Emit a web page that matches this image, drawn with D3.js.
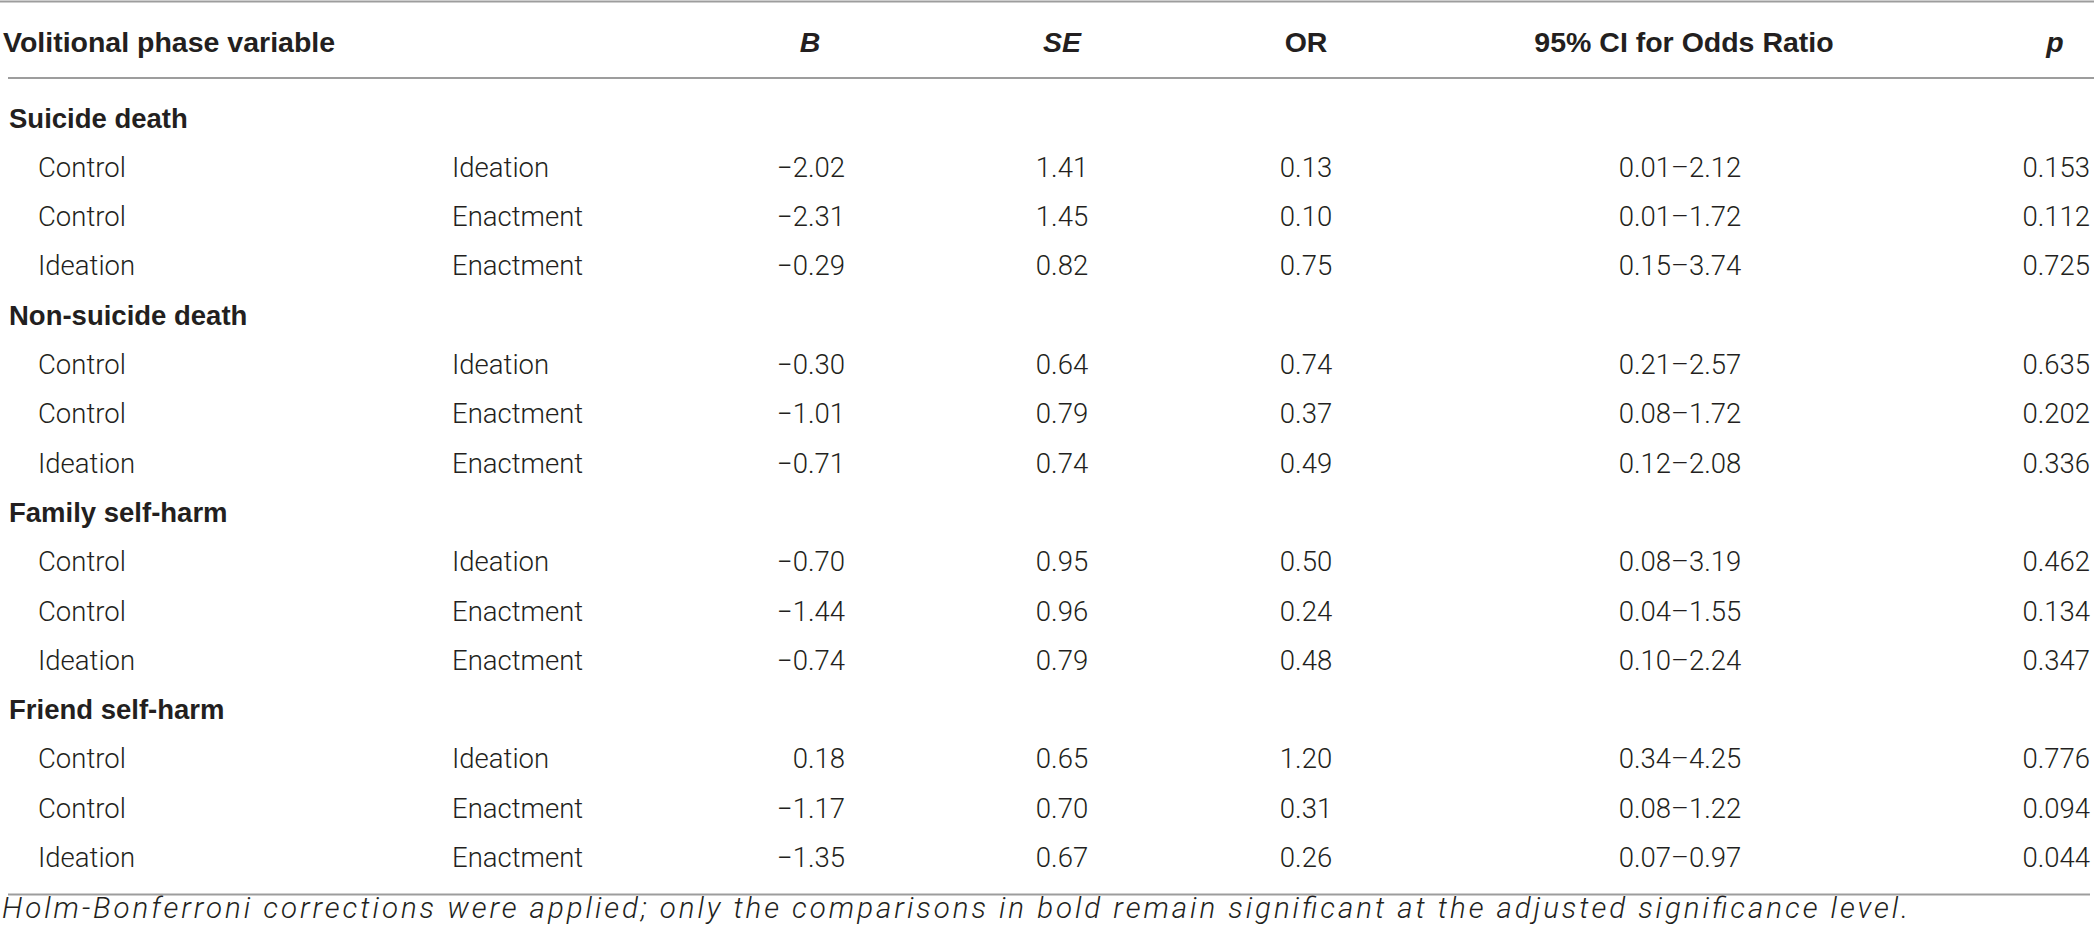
<!DOCTYPE html>
<html>
<head>
<meta charset="utf-8">
<script src="https://cdn.jsdelivr.net/npm/d3@7"></script>
<style>
  html, body { margin: 0; padding: 0; background: #fff; }
  svg { display: block; }
</style>
</head>
<body>
<svg id="chart" width="2094" height="940"></svg>
<script>
// ---------------- data ----------------
const headers = ["Volitional phase variable", "B", "SE", "OR", "95% CI for Odds Ratio", "p"];
const sections = ["Suicide death", "Non-suicide death", "Family self-harm", "Friend self-harm"];
const groupA = ["Control", "Control", "Ideation"];
const groupB = ["Ideation", "Enactment", "Enactment"];
const bValues  = [-2.02, -2.31, -0.29, -0.30, -1.01, -0.71, -0.70, -1.44, -0.74, 0.18, -1.17, -1.35];
const seValues = [1.41, 1.45, 0.82, 0.64, 0.79, 0.74, 0.95, 0.96, 0.79, 0.65, 0.70, 0.67];
const orValues = [0.13, 0.10, 0.75, 0.74, 0.37, 0.49, 0.50, 0.24, 0.48, 1.20, 0.31, 0.26];
const ciLow    = [0.01, 0.01, 0.15, 0.21, 0.08, 0.12, 0.08, 0.04, 0.10, 0.34, 0.08, 0.07];
const ciHigh   = [2.12, 1.72, 3.74, 2.57, 1.72, 2.08, 3.19, 1.55, 2.24, 4.25, 1.22, 0.97];
const pValues  = [0.153, 0.112, 0.725, 0.635, 0.202, 0.336, 0.462, 0.134, 0.347, 0.776, 0.094, 0.044];
const footnote = "Holm-Bonferroni corrections were applied; only the comparisons in bold remain significant at the adjusted significance level.";

// ---------------- build rows ----------------
const rows = [];
let k = 0;
sections.forEach(s => {
  rows.push({ type: "section", label: s });
  for (let j = 0; j < 3; j++) {
    rows.push({ type: "data", a: groupA[j], b: groupB[j], B: bValues[k], SE: seValues[k],
                OR: orValues[k], lo: ciLow[k], hi: ciHigh[k], p: pValues[k] });
    k++;
  }
});

const svg = d3.select("#chart");
const W = 2094;
const textColor = "#231f20";
const lineColor = "#9d9d9d";
const bodyFont = "Roboto, 'Liberation Sans', sans-serif";
const boldFont = "'Liberation Sans', Arial, sans-serif";

const y = d3.scalePoint().domain(d3.range(rows.length)).range([127.5, 867]);

// column anchors
const col = { sec: 9, a: 38, b: 452, B: 845, Bh: 810, SE: 1062, OR: 1306, CI: 1680, CIh: 1684, P: 2090, Ph: 2055 };

const f2 = d3.format(".2f");
const f3 = d3.format(".3f");

// rules
const rules = [
  { x1: 0, x2: W, y: 1.5 },
  { x1: 8, x2: 2094, y: 78 },
  { x1: 8, x2: 2090, y: 894.5 }
];
svg.selectAll("line.rule").data(rules).join("line")
  .attr("class", "rule")
  .attr("x1", d => d.x1).attr("x2", d => d.x2)
  .attr("y1", d => d.y).attr("y2", d => d.y)
  .attr("stroke", lineColor).attr("stroke-width", 2);

// header
const headY = 52;
const headSpec = [
  { t: headers[0], x: 3, anchor: "start", italic: false },
  { t: headers[1], x: col.Bh, anchor: "middle", italic: true },
  { t: headers[2], x: col.SE, anchor: "middle", italic: true },
  { t: headers[3], x: col.OR, anchor: "middle", italic: false },
  { t: headers[4], x: col.CIh, anchor: "middle", italic: false },
  { t: headers[5], x: col.Ph, anchor: "middle", italic: true }
];
svg.selectAll("text.head").data(headSpec).join("text")
  .attr("class", "head")
  .attr("x", d => d.x).attr("y", headY)
  .attr("text-anchor", d => d.anchor)
  .attr("font-family", boldFont).attr("font-weight", 700)
  .attr("font-style", d => d.italic ? "italic" : "normal")
  .attr("font-size", 28.5)
  .attr("fill", textColor)
  .text(d => d.t);

// body rows
const g = svg.selectAll("g.row").data(rows).join("g")
  .attr("class", "row")
  .attr("transform", (d, i) => `translate(0,${y(i)})`);

g.filter(d => d.type === "section").append("text")
  .attr("x", col.sec).attr("y", 0)
  .attr("font-family", boldFont).attr("font-weight", 700)
  .attr("font-size", 27.5).attr("fill", textColor)
  .text(d => d.label);

const dataRows = g.filter(d => d.type === "data");
function cell(sel, x, anchor, fn) {
  sel.append("text")
    .attr("x", x).attr("y", 0)
    .attr("text-anchor", anchor)
    .attr("font-family", bodyFont).attr("font-weight", 300)
    .attr("font-size", 27.5).attr("fill", textColor)
    .text(fn);
}
cell(dataRows, col.a, "start", d => d.a);
cell(dataRows, col.b, "start", d => d.b);
cell(dataRows, col.B, "end", d => f2(d.B));
cell(dataRows, col.SE, "middle", d => f2(d.SE));
cell(dataRows, col.OR, "middle", d => f2(d.OR));
cell(dataRows, col.CI, "middle", d => f2(d.lo) + "\u2013" + f2(d.hi));
cell(dataRows, col.P, "end", d => f3(d.p));

// footnote: size chosen so the line spans the same width as in the reference
const note = svg.append("text")
  .attr("x", 2).attr("y", 918)
  .attr("font-family", bodyFont).attr("font-weight", 300).attr("font-style", "italic")
  .attr("font-size", 28).attr("fill", textColor)
  .text(footnote);
const targetW = 1906;
const natW = note.node().getComputedTextLength();
if (natW > 0) {
  const fs = Math.min(29.5, 28 * targetW / natW);
  note.attr("font-size", fs);
  const w2 = note.node().getComputedTextLength();
  if (w2 < targetW) note.attr("textLength", targetW).attr("lengthAdjust", "spacing");
}
</script>
</body>
</html>
